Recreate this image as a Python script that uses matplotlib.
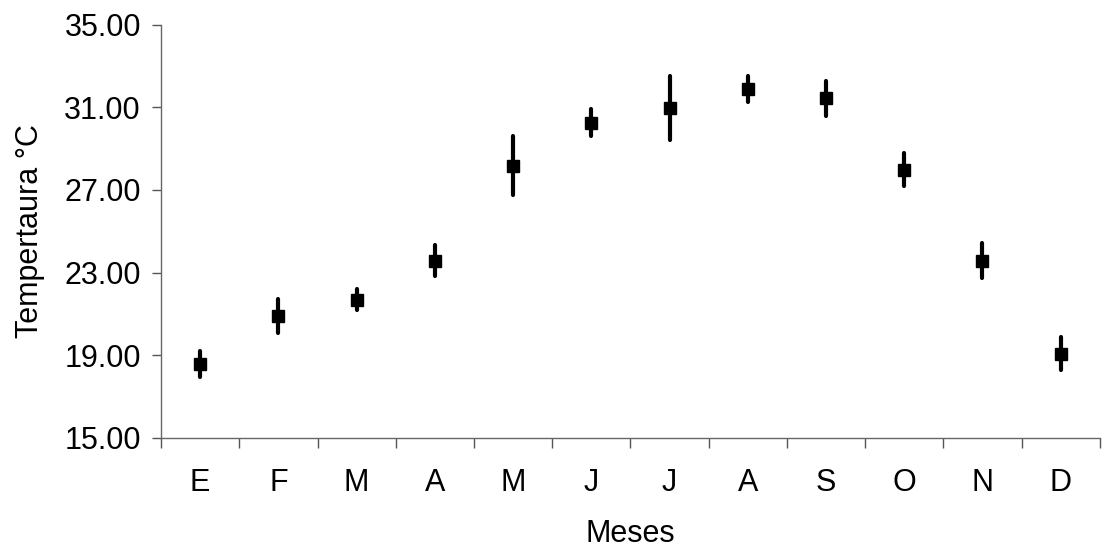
import matplotlib
matplotlib.use("Agg")
import matplotlib.pyplot as plt
import numpy as np

# monthly mean temperature with its spread
MESES = ["E", "F", "M", "A", "M", "J", "J", "A", "S", "O", "N", "D"]
TEMP_MEDIA = [18.57, 20.90, 21.69, 23.58, 28.17, 30.26, 30.97, 31.89, 31.43, 27.97, 23.58, 19.08]
TEMP_ERR = [0.63, 0.83, 0.50, 0.74, 1.43, 0.66, 1.56, 0.63, 0.85, 0.80, 0.85, 0.81]
Y_TICKS = [15.0, 19.0, 23.0, 27.0, 31.0, 35.0]

plt.rcParams.update(
    {
        "font.family": ["Liberation Sans", "DejaVu Sans"],
        "font.size": 22,
    }
)

fig = plt.figure(figsize=(11.07, 5.5), dpi=100)
ax = fig.add_axes([0.1455, 0.204, 0.848, 0.751])

x = np.arange(len(MESES))
_, caps, bars = ax.errorbar(
    x, TEMP_MEDIA, yerr=TEMP_ERR,
    fmt="s", color="black", markersize=8.8, elinewidth=3.0, capsize=0,
)
for b in bars:
    b.set_capstyle("round")

ax.set_ylim(15, 35)
ax.set_yticks(Y_TICKS)
ax.set_yticklabels([f"{v:.2f}" for v in Y_TICKS])
ax.set_xlim(-0.5, len(MESES) - 0.5)
ax.set_xticks(x)
ax.set_xticklabels(MESES)
ax.set_xticks(np.arange(-0.5, len(MESES)), minor=True)
ax.tick_params(axis="x", which="major", length=0, pad=22)
ax.tick_params(axis="x", which="minor", length=7, width=1, color="#555555", direction="out")
ax.tick_params(axis="y", length=6.5, width=1, color="#555555", pad=8)

for side in ("top", "right"):
    ax.spines[side].set_visible(False)
for side in ("left", "bottom"):
    ax.spines[side].set_color("#666666")
    ax.spines[side].set_linewidth(1.0)

ax.set_xlabel("Meses", labelpad=15)
ax.set_ylabel("Tempertaura °C", labelpad=14)

fig.savefig("out.png", dpi=100)
